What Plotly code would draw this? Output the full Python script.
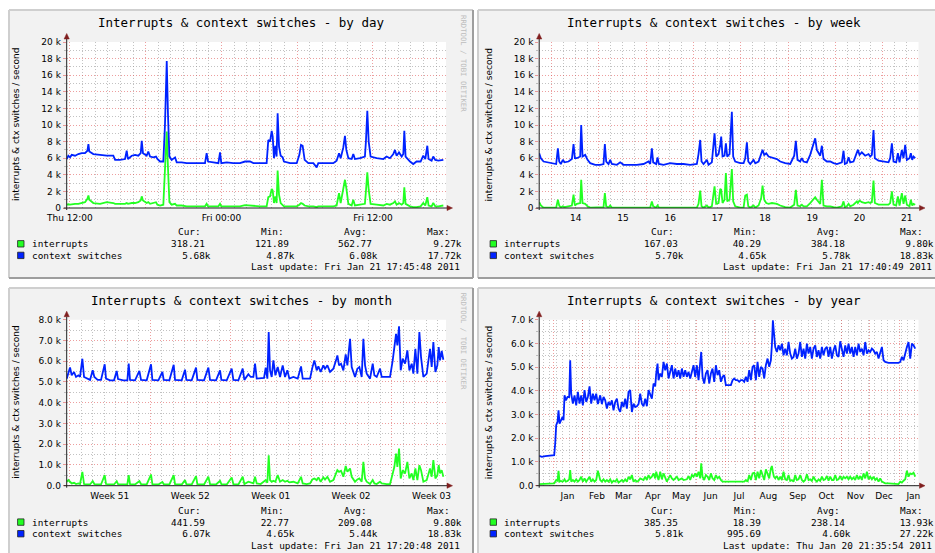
import plotly.graph_objects as go

# ------------------------------------------------------------------ data
# by day : x = hours since Thu 2011-01-20 00:00, values in thousands / s
day_hours = [11.75, 11.88, 12.01, 12.15, 12.41, 12.67, 12.94, 13.2, 13.39, 13.47,
             13.54, 13.86, 14.39, 14.92, 15.44, 15.58, 15.97, 16.37, 16.5, 16.6,
             16.9, 17.16, 17.42, 17.61, 17.69, 17.79, 18.08, 18.21, 18.35, 18.61,
             18.82, 18.93, 19.14, 19.4, 19.53, 19.67, 19.77, 19.88, 20.06, 20.33,
             20.46, 20.85, 21.25, 21.78, 22.3, 22.7, 22.83, 22.94, 23.36, 23.76,
             23.89, 23.99, 24.42, 24.94, 25.47, 25.87, 26.26, 26.53, 27.05, 27.58,
             27.71, 27.85, 27.98, 28.06, 28.16, 28.27, 28.37, 28.45, 28.56, 28.69,
             28.85, 28.95, 29.43, 29.96, 30.17, 30.3, 30.43, 30.59, 30.88, 31.28,
             31.54, 31.67, 32.33, 32.86, 33.12, 33.31, 33.44, 33.65, 33.78, 33.89,
             34.05, 34.31, 34.44, 34.57, 34.97, 35.36, 35.44, 35.55, 35.66, 35.81,
             36.29, 36.82, 37.08, 37.34, 37.61, 37.74, 37.87, 38.06, 38.27, 38.4,
             38.48, 38.58, 38.93, 39.19, 39.45, 39.77, 39.98, 40.14, 40.3, 40.4,
             40.64, 40.77, 40.93, 41.17, 41.57]
day_ctx = [5.9, 6.3, 6.1, 6.4, 6.3, 6.5, 6.6, 6.6, 6.9, 7.7,
           6.8, 6.5, 6.4, 6.3, 6.3, 5.8, 5.8, 5.9, 6.9, 5.9,
           6.3, 6.4, 6.3, 6.6, 8.1, 6.6, 6.3, 6.8, 6.2, 6.1,
           6.2, 5.9, 5.6, 5.6, 10.0, 17.7, 11.2, 6.2, 5.8, 6.1,
           5.5, 5.5, 5.4, 5.4, 5.4, 5.4, 6.6, 5.6, 5.5, 5.4,
           6.7, 5.4, 5.5, 5.4, 5.4, 5.6, 5.6, 5.4, 5.4, 5.4,
           8.2, 8.0, 9.3, 8.6, 6.0, 7.5, 6.2, 11.4, 7.4, 6.3,
           6.1, 5.6, 5.4, 5.4, 6.4, 7.6, 7.5, 5.8, 5.4, 5.4,
           4.9, 5.4, 5.4, 5.4, 5.7, 6.6, 6.0, 7.3, 8.7, 7.0,
           6.0, 5.9, 6.5, 5.9, 6.0, 6.2, 8.0, 11.7, 8.0, 6.2,
           6.0, 5.9, 6.2, 6.0, 6.5, 7.0, 6.3, 6.7, 6.2, 6.5,
           9.3, 6.2, 5.6, 5.3, 5.6, 5.6, 6.3, 5.9, 7.5, 5.9,
           5.7, 6.2, 5.8, 5.7, 5.8]
day_interrupts = [0.4, 0.45, 0.4, 0.45, 0.5, 0.5, 0.6, 0.7, 1.1, 1.5,
                  1.0, 0.6, 0.5, 0.7, 0.6, 0.5, 0.5, 0.5, 0.6, 0.5,
                  0.6, 0.6, 0.7, 0.9, 1.4, 0.9, 0.6, 0.7, 0.5, 0.6,
                  0.7, 0.4, 0.3, 0.4, 5.0, 9.2, 4.8, 0.7, 0.4, 0.5,
                  0.3, 0.3, 0.2, 0.2, 0.2, 0.2, 0.5, 0.2, 0.2, 0.2,
                  0.5, 0.2, 0.2, 0.2, 0.2, 0.35, 0.3, 0.2, 0.2, 0.2,
                  1.3, 1.4, 2.3, 2.1, 0.6, 1.4, 0.6, 4.5, 1.6, 0.6,
                  0.4, 0.2, 0.2, 0.2, 0.4, 0.6, 0.5, 0.3, 0.2, 0.2,
                  0.1, 0.2, 0.2, 0.2, 0.3, 1.8, 0.6, 2.5, 3.4, 2.4,
                  0.5, 0.3, 1.0, 0.3, 0.4, 0.5, 2.0, 4.3, 2.2, 0.5,
                  0.4, 0.3, 0.5, 0.4, 0.6, 0.8, 0.4, 0.6, 0.4, 0.6,
                  2.5, 0.5, 0.2, 0.1, 0.1, 0.2, 0.6, 0.3, 1.3, 0.3,
                  0.2, 0.6, 0.2, 0.2, 0.3]

# by week : x = days since 2011-01-13 00:00
week_days = [0.736, 0.771, 0.828, 0.898, 0.969, 1.039, 1.095, 1.131, 1.159, 1.194,
             1.236, 1.272, 1.356, 1.427, 1.462, 1.49, 1.532, 1.603, 1.624, 1.652,
             1.708, 1.758, 1.814, 1.92, 2.026, 2.096, 2.124, 2.153, 2.202, 2.237,
             2.272, 2.378, 2.448, 2.519, 2.66, 2.801, 2.942, 3.047, 3.083, 3.118,
             3.146, 3.21, 3.238, 3.266, 3.365, 3.505, 3.646, 3.787, 3.928, 4.069,
             4.104, 4.14, 4.168, 4.21, 4.281, 4.316, 4.386, 4.443, 4.478, 4.528,
             4.563, 4.584, 4.612, 4.654, 4.683, 4.711, 4.76, 4.809, 4.837, 4.88,
             4.986, 5.057, 5.092, 5.127, 5.156, 5.198, 5.268, 5.304, 5.374, 5.429,
             5.458, 5.493, 5.536, 5.585, 5.656, 5.762, 5.831, 5.937, 6.043, 6.127,
             6.162, 6.197, 6.254, 6.289, 6.324, 6.395, 6.465, 6.536, 6.571, 6.606,
             6.677, 6.712, 6.747, 6.818, 6.888, 6.959, 7.029, 7.135, 7.17, 7.198,
             7.24, 7.276, 7.311, 7.381, 7.452, 7.473, 7.508, 7.557, 7.628, 7.699,
             7.734, 7.769, 7.804, 7.832, 7.91, 8.016, 8.121, 8.156, 8.192, 8.227,
             8.283, 8.319, 8.354, 8.403, 8.438, 8.474, 8.509, 8.565, 8.593, 8.622,
             8.65, 8.685]
week_ctx = [6.6, 6.0, 5.6, 5.5, 5.4, 5.3, 5.3, 7.2, 5.6, 5.3,
            5.8, 5.5, 5.6, 5.9, 7.7, 6.0, 6.0, 6.2, 10.0, 6.2,
            6.4, 5.8, 5.4, 5.2, 5.2, 5.3, 7.7, 5.6, 5.3, 5.8,
            5.3, 5.2, 5.5, 5.2, 5.2, 5.2, 5.3, 5.6, 5.3, 7.2,
            5.5, 5.3, 6.1, 5.3, 5.2, 5.4, 5.3, 5.3, 5.2, 5.3,
            6.5, 8.2, 5.6, 5.3, 5.8, 5.2, 5.5, 9.0, 6.2, 6.5,
            7.6, 8.6, 6.2, 6.3, 7.8, 6.2, 6.5, 11.6, 6.2, 5.6,
            5.4, 5.4, 6.0, 7.9, 5.6, 5.3, 5.8, 5.4, 5.6, 6.5,
            7.0, 6.4, 6.6, 6.2, 6.1, 5.9, 5.6, 5.4, 5.3, 6.3,
            8.1, 5.8, 5.6, 6.0, 5.6, 5.5, 6.4, 7.6, 8.4, 7.0,
            6.3, 7.5, 5.9, 5.6, 5.6, 5.4, 5.3, 5.5, 6.9, 5.3,
            5.4, 6.1, 5.5, 5.6, 6.6, 7.0, 6.4, 6.7, 6.3, 6.5,
            6.2, 6.4, 9.4, 6.0, 5.7, 5.6, 5.5, 6.0, 7.8, 5.6,
            5.5, 6.6, 5.5, 7.0, 6.0, 7.6, 5.8, 6.0, 6.6, 5.8,
            6.2, 6.0]
week_interrupts = [0.7, 0.3, 0.05, 0.05, 0.05, 0.05, 0.05, 1.0, 0.3, 0.05,
                   0.2, 0.1, 0.2, 0.3, 1.6, 0.3, 0.5, 0.6, 3.4, 0.6,
                   0.5, 0.2, 0.05, 0.05, 0.05, 0.1, 1.8, 0.2, 0.05, 0.3,
                   0.05, 0.05, 0.05, 0.05, 0.05, 0.05, 0.05, 0.1, 0.05, 0.8,
                   0.2, 0.05, 0.3, 0.05, 0.05, 0.05, 0.05, 0.05, 0.05, 0.05,
                   0.5, 2.1, 0.2, 0.05, 0.3, 0.05, 0.2, 2.6, 0.5, 0.6,
                   2.3, 2.2, 0.6, 1.0, 4.2, 0.8, 1.0, 4.7, 0.8, 0.2,
                   0.05, 0.05, 1.5, 1.6, 0.2, 0.05, 0.3, 0.05, 0.3, 1.2,
                   2.7, 1.0, 0.6, 0.5, 0.6, 0.5, 0.3, 0.1, 0.05, 0.4,
                   2.2, 0.3, 0.2, 0.4, 0.2, 0.2, 0.6, 1.1, 1.3, 1.0,
                   0.5, 3.4, 0.3, 0.2, 0.2, 0.1, 0.05, 0.2, 0.8, 0.1,
                   0.2, 0.5, 0.2, 0.4, 0.8, 0.6, 0.9, 0.7, 0.6, 0.7,
                   0.6, 0.7, 3.3, 0.6, 0.4, 0.4, 0.4, 0.6, 2.0, 0.4,
                   0.3, 1.4, 0.3, 1.8, 0.5, 1.5, 0.4, 0.2, 1.0, 0.3,
                   0.5, 0.4]

# by month : x = days since Mon 2010-12-20 00:00
month_days = [-0.27, -0.125, 0.02, 0.165, 0.368, 0.542, 0.745, 0.89, 1.093, 1.239,
              1.471, 1.761, 1.993, 2.138, 2.428, 2.718, 3.037, 3.153, 3.501, 3.849,
              4.082, 4.197, 4.662, 5.01, 5.126, 5.242, 5.677, 6.054, 6.199, 6.692,
              7.069, 7.186, 7.708, 8.056, 8.172, 8.665, 9.042, 9.158, 9.739, 10.029,
              10.145, 10.609, 10.986, 11.102, 11.682, 12.059, 12.204, 12.727, 13.075, 13.191,
              13.655, 14.09, 14.235, 14.67, 15.047, 15.192, 15.54, 15.743, 15.976, 16.121,
              16.266, 16.614, 16.904, 17.049, 17.194, 17.31, 17.426, 17.571, 17.716, 17.89,
              18.093, 18.296, 18.528, 18.731, 18.934, 19.108, 19.456, 19.834, 20.124, 20.269,
              20.617, 20.907, 21.11, 21.284, 21.488, 21.633, 21.836, 22.068, 22.213, 22.416,
              22.648, 22.938, 23.17, 23.286, 23.431, 23.605, 23.808, 24.011, 24.156, 24.389,
              24.534, 24.824, 25.027, 25.201, 25.404, 25.549, 25.694, 25.839, 26.129, 26.362,
              26.507, 26.71, 27.0, 27.145, 27.58, 27.87, 28.102, 28.247, 28.392, 28.508,
              28.653, 28.798, 28.972, 29.175, 29.378, 29.552, 29.755, 29.9, 30.074, 30.248,
              30.422, 30.567, 30.77, 31.06, 31.35, 31.495, 31.64, 31.814, 31.988, 32.104,
              32.22, 32.365, 32.51]
month_ctx = [5.16, 5.4, 5.7, 5.32, 5.48, 5.24, 5.32, 5.24, 6.12, 5.24,
             5.16, 5.1, 5.56, 5.24, 5.1, 5.1, 5.85, 5.16, 5.08, 5.08,
             5.53, 5.14, 5.08, 5.08, 5.88, 5.1, 5.08, 5.53, 5.1, 5.08,
             5.85, 5.1, 5.08, 5.48, 5.1, 5.08, 5.83, 5.1, 5.08, 5.59,
             5.1, 5.08, 5.69, 5.1, 5.08, 5.69, 5.1, 5.08, 5.56, 5.1,
             5.08, 5.64, 5.1, 5.08, 5.64, 5.1, 5.37, 5.24, 5.24, 5.88,
             5.16, 5.16, 5.19, 5.69, 5.16, 7.4, 5.56, 5.24, 6.04, 5.32,
             5.72, 5.24, 5.8, 5.24, 5.56, 5.16, 5.24, 5.16, 5.75, 5.16,
             5.16, 5.16, 5.69, 6.04, 5.56, 5.75, 5.48, 5.8, 5.64, 5.8,
             5.48, 5.64, 6.04, 6.28, 5.8, 5.88, 5.56, 6.33, 5.8, 7.08,
             5.72, 5.24, 5.64, 5.72, 5.24, 7.08, 5.8, 5.4, 5.16, 5.88,
             5.32, 5.24, 5.64, 5.24, 5.24, 5.24, 6.04, 6.68, 7.32, 6.76,
             7.68, 5.56, 6.12, 5.88, 6.52, 5.56, 5.88, 5.4, 6.6, 5.4,
             7.4, 6.2, 5.24, 5.4, 6.6, 5.72, 6.92, 5.48, 5.8, 6.68,
             6.04, 6.49, 6.07]
month_interrupts = [0.19, 0.27, 0.19, 0.11, 0.14, 0.08, 0.11, 0.08, 0.67, 0.08,
                    0.06, 0.06, 0.22, 0.08, 0.06, 0.06, 0.51, 0.08, 0.06, 0.06,
                    0.22, 0.08, 0.06, 0.06, 0.51, 0.08, 0.06, 0.22, 0.08, 0.06,
                    0.54, 0.08, 0.06, 0.18, 0.08, 0.06, 0.51, 0.08, 0.06, 0.27,
                    0.08, 0.06, 0.46, 0.08, 0.06, 0.43, 0.08, 0.06, 0.24, 0.08,
                    0.06, 0.4, 0.08, 0.06, 0.43, 0.08, 0.19, 0.14, 0.11, 0.43,
                    0.11, 0.08, 0.19, 0.27, 0.14, 1.47, 0.27, 0.19, 0.24, 0.19,
                    0.51, 0.19, 0.27, 0.19, 0.24, 0.16, 0.19, 0.11, 0.43, 0.11,
                    0.08, 0.11, 0.3, 0.35, 0.27, 0.4, 0.19, 0.4, 0.3, 0.43,
                    0.19, 0.27, 0.59, 0.75, 0.67, 0.72, 0.43, 0.95, 0.67, 0.83,
                    0.43, 0.19, 0.3, 0.35, 0.19, 1.15, 0.35, 0.19, 0.08, 0.27,
                    0.11, 0.08, 0.19, 0.11, 0.08, 0.08, 0.59, 0.91, 1.55, 0.91,
                    1.79, 0.35, 0.75, 0.59, 1.15, 0.35, 0.59, 0.27, 0.83, 0.27,
                    0.99, 0.75, 0.19, 0.27, 0.83, 0.43, 1.23, 0.35, 0.51, 0.99,
                    0.59, 0.75, 0.43]

# by year : x = days since 2010-01-01 00:00
year_days = [-15.1, -12.29, -8.77, -5.25, -1.73, 0.73, 1.79, 2.84, 4.25, 5.3,
             6.36, 7.77, 9.53, 10.58, 11.64, 13.04, 14.8, 16.56, 17.62, 18.67,
             20.43, 22.19, 23.95, 25.71, 27.47, 29.23, 30.99, 32.74, 34.5, 36.26,
             38.02, 39.78, 41.54, 43.3, 45.06, 46.82, 49.28, 51.04, 52.8, 54.56,
             56.32, 58.08, 59.83, 61.59, 63.35, 65.11, 66.87, 68.63, 70.39, 72.15,
             73.91, 75.67, 77.42, 79.18, 80.94, 82.7, 84.46, 86.22, 87.98, 89.74,
             91.5, 93.26, 95.02, 96.78, 98.53, 100.29, 102.05, 103.81, 105.57, 107.33,
             108.39, 109.79, 110.85, 112.61, 114.37, 116.12, 117.88, 119.64, 121.4, 123.16,
             124.92, 126.68, 128.44, 130.2, 131.96, 133.71, 135.47, 137.23, 138.99, 140.75,
             142.51, 144.27, 146.03, 147.79, 149.55, 151.31, 153.07, 154.82, 155.88, 157.29,
             159.04, 160.8, 162.56, 164.32, 166.08, 167.84, 169.6, 171.36, 173.12, 174.88,
             176.63, 178.39, 180.15, 181.91, 183.67, 185.43, 187.19, 188.95, 190.71, 192.47,
             194.22, 195.98, 197.74, 199.5, 201.26, 203.02, 204.78, 206.54, 208.3, 210.06,
             211.81, 213.57, 215.33, 217.09, 218.85, 220.61, 222.37, 224.13, 225.89, 227.65,
             229.4, 230.46, 231.52, 232.57, 233.98, 235.74, 237.5, 239.26, 241.02, 242.77,
             244.53, 246.29, 248.05, 249.81, 251.57, 253.33, 255.09, 256.85, 258.61, 260.37,
             262.12, 263.88, 265.64, 267.4, 269.16, 270.92, 272.68, 274.44, 276.2, 277.96,
             279.71, 281.47, 283.23, 284.99, 286.75, 288.51, 290.27, 292.03, 293.79, 295.55,
             297.3, 299.06, 300.82, 302.58, 304.34, 306.1, 307.86, 309.62, 311.38, 313.14,
             314.89, 316.65, 318.41, 320.17, 321.93, 323.69, 325.45, 327.21, 328.97, 330.73,
             332.48, 334.24, 336.0, 337.76, 339.52, 341.28, 343.04, 344.8, 346.56, 348.32,
             350.07, 353.59, 357.11, 360.63, 364.15, 365.91, 367.66, 369.42, 371.18, 372.94,
             374.7, 376.46, 378.22, 379.98, 381.74]
year_ctx = [1.26, 1.22, 1.25, 1.26, 1.26, 1.29, 1.78, 2.55, 2.69, 3.18,
            2.62, 2.76, 2.9, 2.76, 3.81, 3.6, 3.74, 3.74, 5.29, 3.88,
            3.46, 3.81, 3.39, 3.96, 3.46, 3.81, 3.39, 4.03, 3.53, 3.74,
            4.19, 3.46, 3.88, 3.6, 3.88, 3.44, 3.81, 3.44, 3.74, 3.6,
            3.25, 3.53, 3.39, 3.6, 3.18, 3.53, 3.67, 3.25, 3.11, 3.53,
            3.32, 3.67, 3.25, 3.96, 4.03, 3.11, 3.46, 3.32, 3.35, 3.44,
            3.88, 3.46, 3.35, 3.67, 3.35, 4.03, 3.81, 3.67, 4.31, 4.19,
            4.73, 5.15, 4.45, 4.73, 4.59, 5.22, 4.87, 5.15, 4.52, 4.87,
            5.08, 4.52, 4.94, 4.59, 4.87, 4.52, 4.94, 4.59, 4.87, 4.59,
            4.8, 4.52, 4.8, 5.08, 4.59, 5.08, 4.45, 5.15, 5.64, 4.59,
            4.31, 4.73, 4.87, 4.31, 4.73, 4.94, 4.38, 5.08, 4.66, 4.87,
            4.38, 4.59, 4.66, 4.24, 4.24, 4.24, 4.24, 4.45, 4.52, 4.45,
            4.45, 4.38, 4.45, 4.45, 4.38, 4.59, 4.38, 4.87, 4.45, 5.01,
            5.08, 4.45, 5.22, 4.59, 5.01, 4.94, 4.52, 5.08, 5.36, 5.01,
            5.29, 5.92, 6.97, 6.48, 5.85, 5.64, 5.92, 5.71, 5.99, 5.5,
            5.78, 5.5, 6.06, 5.57, 5.36, 5.43, 5.78, 5.36, 5.57, 6.06,
            5.43, 5.78, 5.36, 5.99, 5.57, 5.85, 5.36, 5.78, 5.92, 5.43,
            5.71, 5.36, 5.85, 5.5, 5.78, 5.85, 5.43, 5.85, 5.36, 5.71,
            5.92, 5.5, 5.43, 6.09, 5.71, 5.43, 5.92, 5.57, 5.99, 5.57,
            5.85, 5.43, 5.85, 5.5, 5.99, 5.64, 5.78, 5.5, 6.06, 5.57,
            5.71, 5.64, 5.78, 5.71, 5.57, 5.64, 5.36, 5.57, 5.85, 5.29,
            5.22, 5.18, 5.18, 5.18, 5.18, 5.22, 5.43, 5.29, 5.64, 5.85,
            6.06, 5.36, 5.99, 5.92, 5.78]
year_interrupts = [0.07, 0.07, 0.07, 0.07, 0.07, 0.1, 0.17, 0.24, 0.21, 0.63,
                   0.17, 0.2, 0.17, 0.2, 0.27, 0.17, 0.2, 0.27, 0.66, 0.17,
                   0.24, 0.17, 0.27, 0.17, 0.24, 0.38, 0.17, 0.31, 0.17, 0.27,
                   0.38, 0.17, 0.27, 0.17, 0.24, 0.63, 0.24, 0.17, 0.27, 0.17,
                   0.24, 0.17, 0.27, 0.13, 0.21, 0.17, 0.27, 0.13, 0.2, 0.24,
                   0.17, 0.27, 0.17, 0.38, 0.27, 0.45, 0.17, 0.24, 0.17, 0.21,
                   0.31, 0.27, 0.24, 0.38, 0.24, 0.45, 0.31, 0.38, 0.52, 0.31,
                   0.59, 0.38, 0.24, 0.59, 0.27, 0.52, 0.38, 0.17, 0.31, 0.45,
                   0.31, 0.24, 0.31, 0.38, 0.24, 0.27, 0.31, 0.24, 0.24, 0.27,
                   0.41, 0.24, 0.45, 0.38, 0.52, 0.38, 0.59, 0.31, 0.94, 0.38,
                   0.24, 0.45, 0.38, 0.24, 0.52, 0.31, 0.24, 0.45, 0.31, 0.38,
                   0.24, 0.17, 0.17, 0.17, 0.17, 0.17, 0.17, 0.17, 0.17, 0.17,
                   0.17, 0.17, 0.17, 0.17, 0.17, 0.24, 0.17, 0.45, 0.24, 0.52,
                   0.55, 0.24, 0.59, 0.31, 0.66, 0.45, 0.24, 0.69, 0.45, 0.31,
                   0.73, 0.83, 0.59, 0.38, 0.31, 0.41, 0.24, 0.38, 0.24, 0.59,
                   0.27, 0.24, 0.45, 0.2, 0.24, 0.17, 0.45, 0.24, 0.27, 0.45,
                   0.24, 0.17, 0.24, 0.48, 0.24, 0.27, 0.2, 0.38, 0.24, 0.17,
                   0.27, 0.2, 0.38, 0.24, 0.27, 0.41, 0.21, 0.38, 0.24, 0.24,
                   0.45, 0.24, 0.27, 0.41, 0.24, 0.38, 0.31, 0.38, 0.27, 0.38,
                   0.27, 0.35, 0.24, 0.45, 0.27, 0.41, 0.24, 0.52, 0.31, 0.59,
                   0.27, 0.38, 0.27, 0.38, 0.24, 0.31, 0.17, 0.31, 0.17, 0.13,
                   0.1, 0.1, 0.1, 0.1, 0.07, 0.17, 0.13, 0.21, 0.27, 0.63,
                   0.38, 0.52, 0.49, 0.55, 0.38]

# tick labels
day_tick_vals = [12, 18, 24, 30, 36]
day_tick_text = ["Thu 12:00", "", "Fri 00:00", "", "Fri 12:00"]
week_tick_vals = [1, 2, 3, 4, 5, 6, 7, 8]
week_tick_text = ["14", "15", "16", "17", "18", "19", "20", "21"]
month_tick_vals = [0, 7, 14, 21, 28]
month_tick_text = ["Week 51", "Week 52", "Week 01", "Week 02", "Week 03"]
year_tick_vals = [0, 31, 59, 90, 120, 151, 181, 212, 243, 273, 304, 334, 365]
year_tick_text = ["Jan", "Feb", "Mar", "Apr", "May", "Jun", "Jul", "Aug",
                  "Sep", "Oct", "Nov", "Dec", "Jan"]
y20_tick_vals = [0, 2, 4, 6, 8, 10, 12, 14, 16, 18, 20]
y20_tick_text = ["0", "2 k", "4 k", "6 k", "8 k", "10 k", "12 k", "14 k", "16 k", "18 k", "20 k"]
y8_tick_vals = [0, 1, 2, 3, 4, 5, 6, 7, 8]
y8_tick_text = ["0.0", "1.0 k", "2.0 k", "3.0 k", "4.0 k", "5.0 k", "6.0 k", "7.0 k", "8.0 k"]
y7_tick_vals = [0, 1, 2, 3, 4, 5, 6, 7]
y7_tick_text = ["0.0", "1.0 k", "2.0 k", "3.0 k", "4.0 k", "5.0 k", "6.0 k", "7.0 k"]

# legend statistics (Cur, Min, Avg, Max)
series_names = ["interrupts", "context switches"]
day_stats = [["318.21", "121.89", "562.77", "9.27k"], ["5.68k", "4.87k", "6.08k", "17.72k"]]
week_stats = [["167.03", "40.29", "384.18", "9.80k"], ["5.70k", "4.65k", "5.78k", "18.83k"]]
month_stats = [["441.59", "22.77", "209.08", "9.80k"], ["6.07k", "4.65k", "5.44k", "18.83k"]]
year_stats = [["385.35", "18.39", "238.14", "13.93k"], ["5.81k", "995.69", "4.60k", "27.22k"]]
day_update = "Last update: Fri Jan 21 17:45:48 2011"
week_update = "Last update: Fri Jan 21 17:40:49 2011"
month_update = "Last update: Fri Jan 21 17:20:48 2011"
year_update = "Last update: Thu Jan 20 21:35:54 2011"

# ------------------------------------------------------------------ style
W, H = 935, 553
GREEN, BLUE = "#22ff22", "#0022ff"
BG, SHADE_A, SHADE_B = "#f2f2f2", "#cfcfcf", "#9e9e9e"
GRID = "rgba(143,143,143,0.55)"
MGRID = "rgba(222,79,79,0.55)"
ARROW, AXIS = "#801f1f", "#1f1f1f"
MONO, SANS = "DejaVu Sans Mono", "DejaVu Sans"
DASH = "1px,2px"


def px(x):
    return x / W


def py(y):
    return 1 - y / H


DX, DY = 472.5, 277.7
panels = [
    dict(title="Interrupts &amp; context switches - by day", ox=0, oy=0,
         box=(9, 10, 473, 278), x=day_hours, ints=day_interrupts, ctx=day_ctx,
         xr=[11.75, 41.78], tv=day_tick_vals, tt=day_tick_text, shift=0,
         minor=[h for h in range(12, 42) if h % 6 != 0],
         yv=y20_tick_vals, yt=y20_tick_text, ymax=20, ymin=[v + 1 for v in range(0, 20, 2)],
         stats=day_stats, upd=day_update, brand=True),
    dict(title="Interrupts &amp; context switches - by week", ox=DX, oy=0,
         box=(478, 10, 945, 278), x=week_days, ints=week_interrupts, ctx=week_ctx,
         xr=[0.736, 8.755], tv=week_tick_vals, tt=week_tick_text, shift=24,
         minor=[d / 4 for d in range(3, 36) if d % 4 != 0],
         yv=y20_tick_vals, yt=y20_tick_text, ymax=20, ymin=[v + 1 for v in range(0, 20, 2)],
         stats=week_stats, upd=week_update, brand=False),
    dict(title="Interrupts &amp; context switches - by month", ox=0, oy=DY,
         box=(9, 288, 473, 560), x=month_days, ints=month_interrupts, ctx=month_ctx,
         xr=[-0.27, 32.74], tv=month_tick_vals, tt=month_tick_text, shift=40,
         minor=[d for d in range(0, 33) if d % 7 != 0],
         yv=y8_tick_vals, yt=y8_tick_text, ymax=8, ymin=[v + 0.5 for v in range(0, 8)],
         stats=month_stats, upd=month_update, brand=True),
    dict(title="Interrupts &amp; context switches - by year", ox=DX, oy=DY,
         box=(478, 288, 945, 560), x=year_days, ints=year_interrupts, ctx=year_ctx,
         xr=[-15.1, 385.2], tv=year_tick_vals, tt=year_tick_text, shift=14,
         minor=[3 + 7 * k for k in range(-2, 55)],
         yv=y7_tick_vals, yt=y7_tick_text, ymax=7, ymin=[v + 0.5 for v in range(0, 7)],
         stats=year_stats, upd=year_update, brand=False),
]

L0, R0, T0, B0 = 66.7, 446.0, 42.0, 208.0

fig = go.Figure()
shapes, annotations, axes = [], [], {}


def line(x0, y0, x1, y1, color, width=1, layer="below"):
    shapes.append(dict(type="line", xref="paper", yref="paper",
                       x0=px(x0), y0=py(y0), x1=px(x1), y1=py(y1),
                       line=dict(color=color, width=width), layer=layer))


def text(x, y, s, size, family, color="black", xanchor="left", angle=0):
    annotations.append(dict(x=px(x), y=py(y), xref="paper", yref="paper", text=s,
                            showarrow=False, xanchor=xanchor, yanchor="middle",
                            textangle=angle, borderpad=0,
                            font=dict(size=size, family=family, color=color)))


def pad(s):
    n = 7 if s.endswith("k") else 6
    return s.rjust(n).replace(" ", "\u00a0")


for i, p in enumerate(panels, start=1):
    ox, oy = p["ox"], p["oy"]
    L, R, T, B = L0 + ox, R0 + ox, T0 + oy, B0 + oy
    bx0, by0, bx1, by1 = p["box"]
    # panel frame
    shapes.append(dict(type="rect", xref="paper", yref="paper", x0=px(bx0), y0=py(by1),
                       x1=px(bx1), y1=py(by0), fillcolor=BG, line=dict(width=0), layer="below"))
    line(bx0, by0, bx1, by0, SHADE_A, 2)
    line(bx0, by0, bx0, by1, SHADE_A, 2)
    line(bx0, by1, bx1, by1, SHADE_B, 2)
    line(bx1, by0, bx1, by1, SHADE_B, 2)
    # canvas
    shapes.append(dict(type="rect", xref="paper", yref="paper", x0=px(L), y0=py(B),
                       x1=px(R), y1=py(T), fillcolor="white", line=dict(width=0), layer="below"))

    xa = "xaxis" if i == 1 else f"xaxis{i}"
    ya = "yaxis" if i == 1 else f"yaxis{i}"
    xs = "x" if i == 1 else f"x{i}"
    ys = "y" if i == 1 else f"y{i}"
    axes[xa] = dict(domain=[px(L), px(R)], range=p["xr"], anchor=ys, fixedrange=True,
                    automargin=False,
                    showline=False, zeroline=False, showgrid=True, gridcolor=MGRID,
                    griddash=DASH, gridwidth=1, tickmode="array", tickvals=p["tv"],
                    ticktext=p["tt"], ticks="", ticklabelstandoff=3,
                    ticklabelshift=p["shift"],
                    tickfont=dict(family=SANS, size=9, color="black"),
                    minor=dict(tickmode="array", tickvals=p["minor"], showgrid=True,
                               gridcolor=GRID, griddash=DASH, gridwidth=1, ticks=""))
    axes[ya] = dict(domain=[py(B), py(T)], range=[0, p["ymax"]], anchor=xs, fixedrange=True,
                    automargin=False,
                    showline=False, zeroline=False, showgrid=True, gridcolor=MGRID,
                    griddash=DASH, gridwidth=1, tickmode="array", tickvals=p["yv"],
                    ticktext=p["yt"], ticks="outside", ticklen=3, tickcolor=MGRID,
                    tickfont=dict(family=SANS, size=9, color="black"),
                    minor=dict(tickmode="array", tickvals=p["ymin"], showgrid=True,
                               gridcolor=GRID, griddash=DASH, gridwidth=1,
                               ticks="outside", ticklen=2, tickcolor=GRID))

    fig.add_trace(go.Scatter(x=p["x"], y=p["ints"], mode="lines", xaxis=xs, yaxis=ys,
                             line=dict(color=GREEN, width=1.8), hoverinfo="skip",
                             name="interrupts", showlegend=False))
    fig.add_trace(go.Scatter(x=p["x"], y=p["ctx"], mode="lines", xaxis=xs, yaxis=ys,
                             line=dict(color=BLUE, width=1.8), hoverinfo="skip",
                             name="context switches", showlegend=False))

    # axes with arrows
    line(L, B + 2, L, T - 3, AXIS, 1, "above")
    line(L - 3, B, R + 1, B, AXIS, 1, "above")
    shapes.append(dict(type="path", xref="paper", yref="paper", layer="above",
                       path=f"M {px(L-2.6)},{py(T-3)} L {px(L+2.6)},{py(T-3)} L {px(L)},{py(T-8.5)} Z",
                       fillcolor=ARROW, line=dict(color=ARROW, width=0.5)))
    shapes.append(dict(type="path", xref="paper", yref="paper", layer="above",
                       path=f"M {px(R+1)},{py(B-2.6)} L {px(R+1)},{py(B+2.6)} L {px(R+6.5)},{py(B)} Z",
                       fillcolor=ARROW, line=dict(color=ARROW, width=0.5)))

    # texts
    text(241 + ox, 22.7 + oy, p["title"], 12.5, MONO, xanchor="center")
    text(16 + ox, (T + B) / 2, "interrupts &amp; ctx switches / second", 9, SANS,
         xanchor="center", angle=-90)
    if p["brand"]:
        text(463.5 + ox, 63.5 + oy, "RRDTOOL / TOBI OETIKER", 7.3, MONO,
             color="#bdbdbd", xanchor="center", angle=90)

    ly = 0 if oy == 0 else 278.3
    for hx, h in zip([177, 260, 343, 426], ["Cur:", "Min:", "Avg:", "Max:"]):
        text(hx + ox, 231.7 + ly, h, 9.4, MONO)
    for r, (nm, col, vals) in enumerate(zip(series_names, [GREEN, BLUE], p["stats"])):
        yy = 243.8 + 11.6 * r + ly
        shapes.append(dict(type="rect", xref="paper", yref="paper", layer="above",
                           x0=px(17.6 + ox), x1=px(24 + ox), y0=py(yy + 3.2), y1=py(yy - 3.2),
                           fillcolor=col, line=dict(color="#222", width=0.8)))
        text(30.7 + ox, yy, nm, 9.4, MONO)
        for cx, v in zip([170, 253.5, 337, 420.5], vals):
            text(cx + ox, yy, pad(v), 9.4, MONO)
    text(460.7 + ox, 266.7 + ly, p["upd"], 9.4, MONO, xanchor="right")

fig.update_layout(width=W, height=H, autosize=False,
                  margin=dict(l=0, r=0, t=0, b=0, pad=0, autoexpand=False),
                  paper_bgcolor="white", plot_bgcolor="rgba(0,0,0,0)",
                  showlegend=False, hovermode=False,
                  shapes=shapes, annotations=annotations, **axes)

fig.write_html("out.html", config={"displayModeBar": False, "staticPlot": True},
               post_script="document.body.style.margin='0px';"
                           "document.body.style.overflow='hidden';")
